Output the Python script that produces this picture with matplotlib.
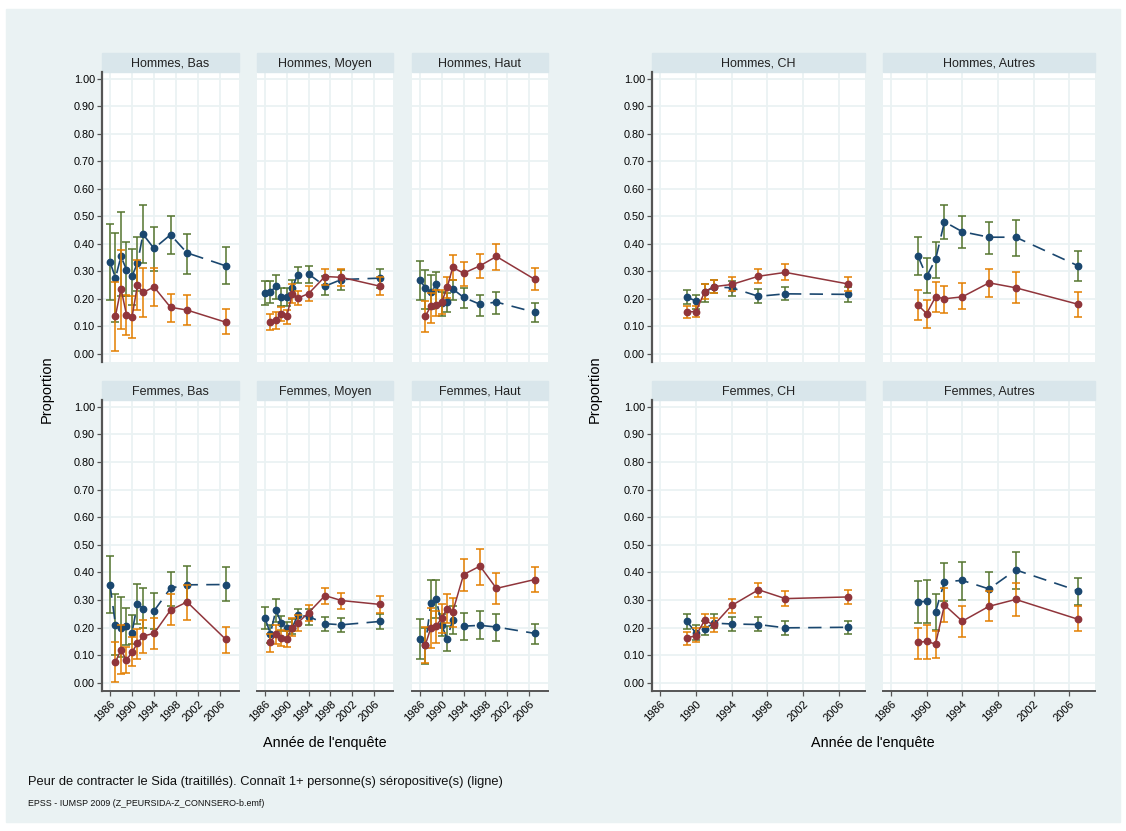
import matplotlib
matplotlib.use("Agg")
import matplotlib.pyplot as plt
from matplotlib.patches import Rectangle
import numpy as np

plt.rcParams['font.family'] = ['Liberation Sans', 'DejaVu Sans']

# survey years
yrs_peur = [1986, 1987, 1988, 1989, 1990, 1991, 1992, 1994, 1997, 2000, 2007]
yrs_conn = [1987, 1988, 1989, 1990, 1991, 1992, 1994, 1997, 2000, 2007]
yrs_reg = [1989, 1990, 1991, 1992, 1994, 1997, 2000, 2007]

# Hommes, Bas
hb_peur = [0.334, 0.276, 0.354, 0.306, 0.282, 0.330, 0.435, 0.383, 0.433, 0.367, 0.320]
hb_peur_lo = [0.195, 0.115, 0.21, 0.21, 0.177, 0.23, 0.33, 0.30, 0.362, 0.29, 0.252]
hb_peur_hi = [0.472, 0.44, 0.515, 0.405, 0.382, 0.426, 0.542, 0.461, 0.50, 0.436, 0.387]
hb_conn = [0.138, 0.237, 0.142, 0.133, 0.25, 0.223, 0.243, 0.169, 0.159, 0.115]
hb_conn_lo = [0.01, 0.09, 0.067, 0.056, 0.159, 0.133, 0.173, 0.115, 0.103, 0.071]
hb_conn_hi = [0.26, 0.377, 0.215, 0.21, 0.34, 0.311, 0.311, 0.219, 0.212, 0.163]

# Hommes, Moyen
hm_peur = [0.222, 0.225, 0.245, 0.208, 0.208, 0.24, 0.288, 0.29, 0.246, 0.27, 0.275]
hm_peur_lo = [0.179, 0.185, 0.20, 0.173, 0.173, 0.21, 0.258, 0.258, 0.212, 0.231, 0.24]
hm_peur_hi = [0.264, 0.264, 0.287, 0.24, 0.24, 0.27, 0.315, 0.32, 0.282, 0.306, 0.309]
hm_conn = [0.116, 0.123, 0.145, 0.136, 0.218, 0.202, 0.219, 0.281, 0.278, 0.246]
hm_conn_lo = [0.086, 0.091, 0.119, 0.11, 0.185, 0.177, 0.191, 0.25, 0.248, 0.212]
hm_conn_hi = [0.143, 0.151, 0.171, 0.159, 0.252, 0.228, 0.246, 0.309, 0.309, 0.28]

# Hommes, Haut
hh_peur = [0.27, 0.238, 0.223, 0.252, 0.184, 0.188, 0.236, 0.205, 0.18, 0.188, 0.151]
hh_peur_lo = [0.197, 0.163, 0.161, 0.173, 0.139, 0.151, 0.195, 0.166, 0.139, 0.146, 0.115]
hh_peur_hi = [0.339, 0.304, 0.286, 0.298, 0.224, 0.22, 0.27, 0.24, 0.214, 0.225, 0.183]
hh_conn = [0.137, 0.173, 0.179, 0.189, 0.242, 0.314, 0.293, 0.32, 0.354, 0.271]
hh_conn_lo = [0.079, 0.113, 0.137, 0.146, 0.203, 0.268, 0.246, 0.274, 0.306, 0.231]
hh_conn_hi = [0.191, 0.222, 0.231, 0.231, 0.28, 0.36, 0.335, 0.364, 0.40, 0.311]

# Hommes, CH
hc_peur = [0.206, 0.192, 0.224, 0.243, 0.24, 0.209, 0.218, 0.216]
hc_peur_lo = [0.18, 0.164, 0.189, 0.22, 0.21, 0.183, 0.194, 0.189]
hc_peur_hi = [0.232, 0.214, 0.252, 0.268, 0.266, 0.234, 0.244, 0.242]
hc_conn = [0.153, 0.153, 0.226, 0.244, 0.252, 0.282, 0.296, 0.254]
hc_conn_lo = [0.131, 0.132, 0.20, 0.22, 0.229, 0.256, 0.27, 0.229]
hc_conn_hi = [0.174, 0.175, 0.252, 0.268, 0.278, 0.307, 0.325, 0.28]

# Hommes, Autres
ha_peur = [0.357, 0.282, 0.343, 0.48, 0.444, 0.424, 0.424, 0.32]
ha_peur_lo = [0.285, 0.22, 0.276, 0.417, 0.383, 0.364, 0.357, 0.265]
ha_peur_hi = [0.426, 0.348, 0.408, 0.54, 0.501, 0.478, 0.487, 0.374]
ha_conn = [0.178, 0.146, 0.207, 0.20, 0.207, 0.258, 0.24, 0.18]
ha_conn_lo = [0.121, 0.095, 0.151, 0.148, 0.163, 0.207, 0.185, 0.135]
ha_conn_hi = [0.233, 0.195, 0.262, 0.248, 0.257, 0.31, 0.296, 0.224]

# Femmes, Bas
fb_peur = [0.356, 0.21, 0.20, 0.205, 0.182, 0.287, 0.269, 0.26, 0.343, 0.355, 0.356]
fb_peur_lo = [0.254, 0.099, 0.093, 0.138, 0.139, 0.214, 0.197, 0.193, 0.278, 0.29, 0.296]
fb_peur_hi = [0.459, 0.32, 0.309, 0.27, 0.245, 0.359, 0.342, 0.325, 0.402, 0.423, 0.419]
fb_conn = [0.076, 0.118, 0.082, 0.111, 0.143, 0.169, 0.179, 0.263, 0.293, 0.158]
fb_conn_lo = [0.004, 0.03, 0.036, 0.062, 0.087, 0.107, 0.121, 0.208, 0.229, 0.107]
fb_conn_hi = [0.147, 0.209, 0.129, 0.164, 0.196, 0.228, 0.234, 0.32, 0.356, 0.202]

# Femmes, Moyen
fm_peur = [0.235, 0.178, 0.263, 0.217, 0.197, 0.20, 0.244, 0.24, 0.214, 0.21, 0.222]
fm_peur_lo = [0.193, 0.145, 0.221, 0.186, 0.163, 0.175, 0.217, 0.211, 0.187, 0.185, 0.193]
fm_peur_hi = [0.274, 0.211, 0.304, 0.242, 0.22, 0.23, 0.269, 0.266, 0.238, 0.234, 0.248]
fm_conn = [0.147, 0.175, 0.162, 0.159, 0.20, 0.217, 0.254, 0.316, 0.298, 0.284]
fm_conn_lo = [0.111, 0.139, 0.133, 0.13, 0.171, 0.187, 0.223, 0.286, 0.268, 0.254]
fm_conn_hi = [0.175, 0.208, 0.19, 0.187, 0.236, 0.244, 0.281, 0.344, 0.326, 0.314]

# Femmes, Haut
fh_peur = [0.159, 0.135, 0.29, 0.302, 0.208, 0.159, 0.229, 0.205, 0.208, 0.202, 0.179]
fh_peur_lo = [0.087, 0.069, 0.20, 0.235, 0.169, 0.115, 0.175, 0.155, 0.157, 0.151, 0.141]
fh_peur_hi = [0.232, 0.199, 0.371, 0.371, 0.248, 0.205, 0.278, 0.254, 0.26, 0.248, 0.214]
fh_conn = [0.138, 0.199, 0.205, 0.236, 0.268, 0.257, 0.392, 0.423, 0.342, 0.374]
fh_conn_lo = [0.072, 0.127, 0.145, 0.181, 0.215, 0.203, 0.332, 0.356, 0.284, 0.33]
fh_conn_hi = [0.202, 0.272, 0.26, 0.287, 0.32, 0.308, 0.449, 0.483, 0.399, 0.419]

# Femmes, CH
fc_peur = [0.223, 0.18, 0.196, 0.216, 0.213, 0.211, 0.199, 0.201]
fc_peur_lo = [0.196, 0.154, 0.172, 0.199, 0.187, 0.187, 0.174, 0.177]
fc_peur_hi = [0.248, 0.209, 0.223, 0.25, 0.238, 0.238, 0.223, 0.223]
fc_conn = [0.162, 0.171, 0.227, 0.209, 0.28, 0.337, 0.305, 0.311]
fc_conn_lo = [0.138, 0.146, 0.201, 0.183, 0.254, 0.309, 0.278, 0.284]
fc_conn_hi = [0.183, 0.199, 0.25, 0.233, 0.305, 0.361, 0.333, 0.335]

# Femmes, Autres
fa_peur = [0.293, 0.295, 0.257, 0.366, 0.371, 0.34, 0.409, 0.333]
fa_peur_lo = [0.217, 0.215, 0.191, 0.296, 0.301, 0.27, 0.341, 0.28]
fa_peur_hi = [0.367, 0.374, 0.32, 0.433, 0.437, 0.40, 0.473, 0.38]
fa_conn = [0.146, 0.15, 0.14, 0.282, 0.223, 0.277, 0.302, 0.23]
fa_conn_lo = [0.087, 0.087, 0.089, 0.22, 0.165, 0.223, 0.241, 0.187]
fa_conn_hi = [0.199, 0.209, 0.189, 0.345, 0.279, 0.333, 0.362, 0.278]

titles = [["Hommes, Bas", "Hommes, Moyen", "Hommes, Haut", "Hommes, CH", "Hommes, Autres"],
          ["Femmes, Bas", "Femmes, Moyen", "Femmes, Haut", "Femmes, CH", "Femmes, Autres"]]

panels = [
    [(hb_peur, hb_peur_lo, hb_peur_hi, hb_conn, hb_conn_lo, hb_conn_hi),
     (hm_peur, hm_peur_lo, hm_peur_hi, hm_conn, hm_conn_lo, hm_conn_hi),
     (hh_peur, hh_peur_lo, hh_peur_hi, hh_conn, hh_conn_lo, hh_conn_hi),
     (hc_peur, hc_peur_lo, hc_peur_hi, hc_conn, hc_conn_lo, hc_conn_hi),
     (ha_peur, ha_peur_lo, ha_peur_hi, ha_conn, ha_conn_lo, ha_conn_hi)],
    [(fb_peur, fb_peur_lo, fb_peur_hi, fb_conn, fb_conn_lo, fb_conn_hi),
     (fm_peur, fm_peur_lo, fm_peur_hi, fm_conn, fm_conn_lo, fm_conn_hi),
     (fh_peur, fh_peur_lo, fh_peur_hi, fh_conn, fh_conn_lo, fh_conn_hi),
     (fc_peur, fc_peur_lo, fc_peur_hi, fc_conn, fc_conn_lo, fc_conn_hi),
     (fa_peur, fa_peur_lo, fa_peur_hi, fa_conn, fa_conn_lo, fa_conn_hi)],
]

xticks = [1986, 1990, 1994, 1998, 2002, 2006]
yticks = np.arange(0, 1.01, 0.1)

navy = '#1A476F'
maroon = '#90353B'
green = '#55752F'
orange = '#E37E00'
bg = '#EAF2F3'
strip = '#D9E6EB'
axcol = '#555555'

W, H = 1126, 831
fig = plt.figure(figsize=(W / 100, H / 100), dpi=100, facecolor='white')
fig.patches.append(Rectangle((6 / W, 1 - 822 / H), 1114 / W, 813 / H,
                             transform=fig.transFigure, color=bg, zorder=-10))

cols = [(102, 239), (257, 393), (412, 548), (652, 865), (883, 1095)]
rows = [(72, 362), (400, 691)]


def px_axes(x0, y0, x1, y1):
    return fig.add_axes([x0 / W, 1 - y1 / H, (x1 - x0) / W, (y1 - y0) / H])


for r, (y0, y1) in enumerate(rows):
    for c, (x0, x1) in enumerate(cols):
        ax = px_axes(x0, y0, x1, y1)
        ax.set_facecolor('white')
        peur, plo, phi, conn, clo, chi = panels[r][c]
        if c < 3:
            xp, xc = yrs_peur, yrs_conn
            ax.set_xlim(1984.55, 2009.45)
        else:
            xp, xc = yrs_reg, yrs_reg
            ax.set_xlim(1985.1, 2008.9)
        ax.set_ylim(-0.03, 1.025)

        peur = np.array(peur); conn = np.array(conn)
        ax.errorbar(xp, peur, yerr=[peur - np.array(plo), np.array(phi) - peur],
                    fmt='none', ecolor=green, elinewidth=1.1, capsize=2.6, capthick=1.1, zorder=3)
        ax.plot(xp, peur, color=navy, lw=1.2, ls=(0, (8, 5)), marker='o', ms=4.6,
                mfc=navy, mec=navy, zorder=4)
        ax.errorbar(xc, conn, yerr=[conn - np.array(clo), np.array(chi) - conn],
                    fmt='none', ecolor=orange, elinewidth=1.1, capsize=2.6, capthick=1.1, zorder=5)
        ax.plot(xc, conn, color=maroon, lw=1.1, marker='o', ms=4.6,
                mfc=maroon, mec=maroon, zorder=6)

        ax.set_xticks(xticks)
        ax.set_yticks(yticks)
        ax.grid(True, color=bg, lw=1.3, zorder=0)
        ax.set_axisbelow(True)
        for s in ax.spines.values():
            s.set_visible(False)

        if c in (0, 3):
            ax.spines['left'].set_visible(True)
            ax.spines['left'].set_color(axcol)
            ax.spines['left'].set_linewidth(1.6)
            ax.set_yticklabels(['%.2f' % v for v in yticks], fontsize=7.8)
            ax.tick_params(axis='y', length=3.5, width=0.9, color=axcol, pad=1.5)
        else:
            ax.tick_params(axis='y', length=0, labelleft=False)

        if r == 1:
            ax.spines['bottom'].set_visible(True)
            ax.spines['bottom'].set_color(axcol)
            ax.spines['bottom'].set_linewidth(1.4)
            ax.set_xticklabels([str(v) for v in xticks], fontsize=8, rotation=45,
                               ha='right', rotation_mode='anchor')
            ax.tick_params(axis='x', length=3.5, width=0.9, color=axcol, pad=2)
        else:
            ax.tick_params(axis='x', length=0, labelbottom=False)

        # panel header strip
        h = 19 / (y1 - y0)
        ax.add_patch(Rectangle((0, 1), 1, h, transform=ax.transAxes, color=strip,
                               clip_on=False, zorder=1))
        ax.text(0.5, 1 + h / 2, titles[r][c], transform=ax.transAxes, ha='center',
                va='center_baseline', fontsize=9, color='#222222')

# axis titles
fig.text(47 / W, 1 - 389 / H, 'Proportion', rotation=90, ha='center', va='center', fontsize=10.5)
fig.text(595 / W, 1 - 389 / H, 'Proportion', rotation=90, ha='center', va='center', fontsize=10.5)
fig.text(325 / W, 1 - 743 / H, "Année de l'enquête", ha='center', va='center', fontsize=10.4)
fig.text(873 / W, 1 - 743 / H, "Année de l'enquête", ha='center', va='center', fontsize=10.4)

# captions
fig.text(28 / W, 1 - 782 / H,
         "Peur de contracter le Sida (traitillés). Connaît 1+ personne(s) séropositive(s) (ligne)",
         ha='left', va='center', fontsize=9.3, color='#111111')
fig.text(28 / W, 1 - 804 / H, "EPSS - IUMSP 2009 (Z_PEURSIDA-Z_CONNSERO-b.emf)",
         ha='left', va='center', fontsize=6.4, color='#111111')

fig.savefig('out.png', dpi=100, facecolor='white')
